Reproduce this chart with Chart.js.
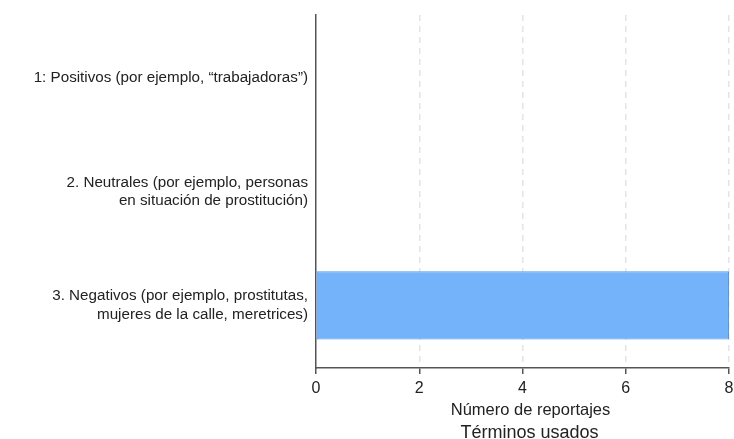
<!DOCTYPE html>
<html>
<head>
<meta charset="utf-8">
<script src="https://cdn.jsdelivr.net/npm/chart.js@4"></script>
<style>
  html, body { margin: 0; padding: 0; background: #fff; }
  #wrap { width: 734px; height: 439px; }
</style>
</head>
<body>
<div id="wrap"><canvas id="canvas"></canvas></div>
<script>
const CATEGORIES = [
  ["1: Positivos (por ejemplo, \u201ctrabajadoras\u201d)"],
  ["2. Neutrales (por ejemplo, personas", "en situación de prostitución)"],
  ["3. Negativos (por ejemplo, prostitutas,", "mujeres de la calle, meretrices)"],
];
const REPORT_COUNTS = [0, 0, 8];
const X_TICKS = [0, 2, 4, 6, 8];
const X_TITLE = "Número de reportajes";
const GROUP_TITLE = "Términos usados";

const BAR_FILL = "#74b3fa";
const BAR_BORDER = "#4f98ee";
const AXIS_COLOR = "#555";
const TEXT_COLOR = "#222";
const FONT = "'Liberation Sans', Arial, sans-serif";

Chart.defaults.font.family = FONT;
Chart.defaults.color = TEXT_COLOR;

// both bottom titles, drawn a bit right of the plot centre like the original
const bottomTitles = {
  id: "bottomTitles",
  afterDraw(chart) {
    const c = chart.ctx;
    const area = chart.chartArea;
    const cx = (area.left + area.right) / 2 + 8;
    c.save();
    c.fillStyle = TEXT_COLOR;
    c.textAlign = "center";
    c.textBaseline = "middle";
    c.font = "16.5px " + FONT;
    c.fillText(X_TITLE, cx, 410);
    c.font = "18px " + FONT;
    c.fillText(GROUP_TITLE, cx - 1, 433);
    c.restore();
  },
};

// category positions 1..3 on a linear axis so the outer gaps can be set
const points = REPORT_COUNTS.map((v, i) => ({ x: v, y: i + 1 }));

const ctx = document.getElementById("canvas");

new Chart(ctx, {
  type: "bar",
  data: {
    datasets: [
      {
        label: X_TITLE,
        data: points,
        backgroundColor: BAR_FILL,
        borderColor: BAR_BORDER,
        borderWidth: 1,
        borderSkipped: false,
        categoryPercentage: 0.6,
        barPercentage: 1,
      },
    ],
  },
  options: {
    indexAxis: "y",
    responsive: true,
    maintainAspectRatio: false,
    animation: false,
    layout: { padding: { top: 15, right: 5, left: 0, bottom: 20 } },
    scales: {
      y: {
        type: "linear",
        reverse: true,
        offset: false,
        min: 0.45,
        max: 3.55,
        afterBuildTicks: (scale) => {
          scale.ticks = CATEGORIES.map((_, i) => ({ value: i + 1 }));
        },
        grid: { display: false, drawTicks: false },
        border: { color: AXIS_COLOR, width: 1.5 },
        ticks: {
          font: { size: 15.2 },
          color: TEXT_COLOR,
          padding: 8,
          callback: (v) => CATEGORIES[v - 1],
        },
        afterFit: (scale) => {
          scale.width = 316;
          scale.paddingTop = 0;
          scale.paddingBottom = 0;
        },
      },
      x: {
        min: 0,
        max: 8,
        afterBuildTicks: (scale) => {
          scale.ticks = X_TICKS.map((v) => ({ value: v }));
        },
        afterFit: (scale) => {
          scale.height = 51;
          scale.paddingRight = 0;
          scale.paddingLeft = 0;
        },
        grid: {
          color: (c) => (c.index === 0 ? "rgba(0,0,0,0)" : "#e4e4e4"),
          lineWidth: 1.5,
          tickColor: AXIS_COLOR,
          tickLength: 6,
          tickWidth: 1.5,
        },
        border: { color: AXIS_COLOR, width: 1.5, dash: [6, 5] },
        ticks: { font: { size: 16 }, color: TEXT_COLOR, padding: 5 },
        title: { display: false },
      },
    },
    plugins: {
      legend: { display: false },
      tooltip: { enabled: false },
    },
  },
  plugins: [bottomTitles],
});
</script>
</body>
</html>
